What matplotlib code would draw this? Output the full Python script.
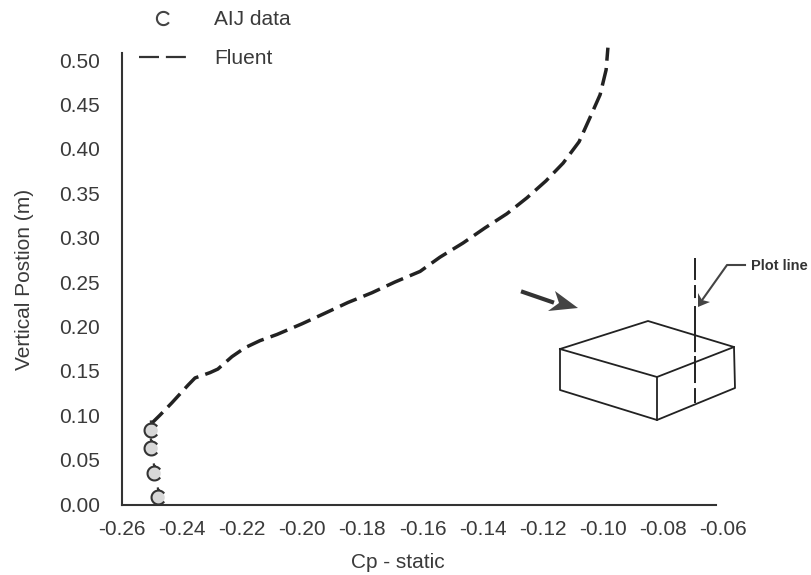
import matplotlib
matplotlib.use('Agg')
import matplotlib.pyplot as plt
from matplotlib.lines import Line2D
from matplotlib.path import Path

W, H = 812, 575

fluent_x = [-0.2507, -0.2474, -0.2434, -0.2380, -0.2357, -0.2307, -0.2281, -0.2234, -0.2191, -0.2141,
            -0.2084, -0.2001, -0.1924, -0.1848, -0.1768, -0.1692, -0.1608, -0.1542, -0.1465, -0.1392,
            -0.1319, -0.1252, -0.1189, -0.1132, -0.1079, -0.1043, -0.1009, -0.0989, -0.0983]
fluent_y = [0.089, 0.100, 0.114, 0.134, 0.142, 0.148, 0.152, 0.166, 0.176, 0.184,
            0.191, 0.203, 0.215, 0.227, 0.238, 0.250, 0.262, 0.278, 0.294, 0.311,
            0.327, 0.345, 0.364, 0.384, 0.408, 0.435, 0.461, 0.489, 0.514]
aij_x = [-0.2503, -0.2503, -0.2493, -0.2480]
aij_y = [0.083, 0.063, 0.035, 0.008]
x_ticks = [-0.26, -0.24, -0.22, -0.20, -0.18, -0.16, -0.14, -0.12, -0.10, -0.08, -0.06]
y_ticks = [0.00, 0.05, 0.10, 0.15, 0.20, 0.25, 0.30, 0.35, 0.40, 0.45, 0.50]

# sketch of the block, in picture pixels
box_lines = [
    [(560, 349), (648, 321), (734, 347), (657, 377), (560, 349)],
    [(560, 349), (560, 390), (657, 420), (735, 388), (734, 347)],
    [(657, 377), (657, 420)],
]
plot_line = [(695, 258), (695, 403)]
leader = [(745, 265), (727, 265), (700, 303)]
leader_head = [(698, 307), (698, 293), (702, 300), (710, 302)]
flow_tail = [(523, 292), (552, 302)]
flow_head = [(578, 308), (555, 291), (559, 303), (548, 311)]

plt.rcParams['font.family'] = ['Liberation Sans', 'DejaVu Sans']
ink = '#3a3a3a'

# open circle, the scan lost the right side of the markers
c_arc = Path.arc(35, 325)
c_mark = Path.make_compound_path(c_arc, Path([(0.05, 1.0), (-0.15, 1.45)]))

fig = plt.figure(figsize=(W / 100, H / 100), dpi=100)
ax = fig.add_axes([122 / W, 1 - 505 / H, (723 - 122) / W, (505 - 53) / H])
ax.plot(fluent_x, fluent_y, color='#222222', lw=2.5, ls=(0, (5.2, 2.1)), clip_on=False)
ax.plot(aij_x, aij_y, ls='none', marker='o', ms=9, mfc='#d8d8d8', mec='none', clip_on=False, zorder=3)
ax.plot(aij_x, aij_y, ls='none', marker=c_mark, ms=14.5, mfc='none', mec='#333333', mew=1.5, clip_on=False, zorder=4)

ax.set_xticks(x_ticks, ['%.2f' % v for v in x_ticks])
ax.set_yticks(y_ticks, ['%.2f' % v for v in y_ticks])
ax.set_xlim(-0.26, -0.06)
ax.set_ylim(-0.0011, 0.508)
ax.tick_params(length=0, labelsize=15, colors=ink)
ax.tick_params(axis='x', pad=11)
ax.tick_params(axis='y', pad=16)
ax.set_xlabel('Cp - static', fontsize=15, color=ink)
ax.set_ylabel('Vertical Postion (m)', fontsize=15, color=ink)
ax.xaxis.set_label_coords(0.459, -0.106)
ax.yaxis.set_label_coords(-0.147, 0.5)
ax.spines['top'].set_visible(False)
ax.spines['right'].set_visible(False)
ax.spines['bottom'].set_bounds(-0.26, -0.0623)
for s in ['left', 'bottom']:
    ax.spines[s].set_linewidth(1.5)
    ax.spines[s].set_color('#333333')

handles = [
    Line2D([], [], ls='none', marker=c_arc, ms=9.5, mfc='none', mec='#444444', mew=1.5),
    Line2D([], [], color='#333333', lw=1.6, ls=(0, (9, 3.1))),
]
ax.legend(handles, ['AIJ data', 'Fluent'], loc='upper left', bbox_to_anchor=(139 / W, 1 - 10 / H),
          bbox_transform=fig.transFigure, frameon=False, fontsize=15, labelcolor=ink,
          handlelength=2.26, handletextpad=1.35, labelspacing=0.95, borderpad=0, borderaxespad=0)

# inset sketch, drawn in pixels over the figure
over = fig.add_axes([0, 0, 1, 1], facecolor='none')
over.set_xlim(0, W)
over.set_ylim(H, 0)
over.axis('off')
for seg in box_lines:
    over.plot([p[0] for p in seg], [p[1] for p in seg], color='#222222', lw=1.3)
over.plot([p[0] for p in plot_line], [p[1] for p in plot_line], color='#222222', lw=1.4,
          ls=(0, (11.3, 2.6, 6.7, 4.1, 23.7, 2, 13.9, 2.6, 7.7, 5)))
over.plot([p[0] for p in leader], [p[1] for p in leader], color='#444444', lw=1.5)
over.fill([p[0] for p in leader_head], [p[1] for p in leader_head], color='#444444', lw=0)
over.plot([p[0] for p in flow_tail], [p[1] for p in flow_tail], color='#333333', lw=3)
over.fill([p[0] for p in flow_head], [p[1] for p in flow_head], color='#444444', lw=0)
over.text(751, 266, 'Plot line', fontsize=10.5, fontweight='bold', color='#333333', va='center')

fig.savefig('out.png', dpi=100)
